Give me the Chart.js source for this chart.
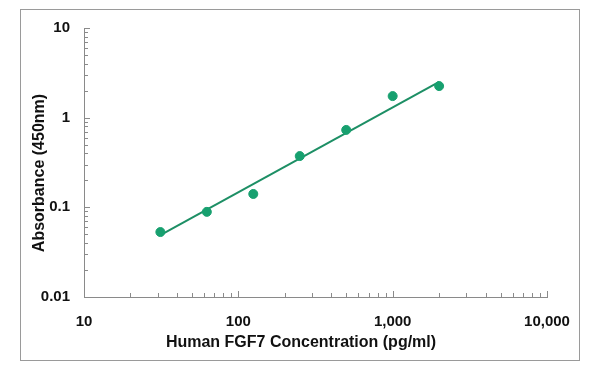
<!DOCTYPE html>
<html>
<head>
<meta charset="utf-8">
<script src="https://cdn.jsdelivr.net/npm/chart.js@4.4.1/dist/chart.umd.min.js"></script>
<style>
  html, body { margin: 0; padding: 0; background: #fff; }
  #wrap { width: 600px; height: 374px; }
</style>
</head>
<body>
<div id="wrap"><canvas id="stdCurve" width="600" height="374"></canvas></div>
<script>
// standard curve readings (pg/ml vs OD 450nm)
var concentrations = [31.25, 62.5, 125, 250, 500, 1000, 2000];
var absorbance = [0.053, 0.089, 0.141, 0.373, 0.73, 1.74, 2.25];

// fitted line at both ends
var fitX = [31.25, 2000];
var fitY = [0.049, 2.5];

// axis ticks (labelled ones are the powers of ten)
var xTicks = [10, 20, 30, 40, 50, 60, 70, 80, 90, 100, 200, 300, 400, 500, 600, 700, 800, 900,
              1000, 2000, 3000, 4000, 5000, 6000, 7000, 8000, 9000, 10000];
var yTicks = [0.01, 0.02, 0.03, 0.04, 0.05, 0.06, 0.07, 0.08, 0.09, 0.1, 0.2, 0.3, 0.4, 0.5, 0.6, 0.7, 0.8, 0.9,
              1, 2, 3, 4, 5, 6, 7, 8, 9, 10];
var xLabels = [10, 100, 1000, 10000];
var yLabels = [0.01, 0.1, 1, 10];

var green = "#17a06f";
var lineGreen = "#1d8f65";
var fontFam = "'Liberation Sans', Arial, sans-serif";

function pts(xs, ys) {
  var out = [];
  for (var i = 0; i < xs.length; i++) out.push({x: xs[i], y: ys[i]});
  return out;
}

// frame, inside tick marks and axis titles
var decor = {
  id: "decor",
  beforeDraw: function(chart) {
    var ctx = chart.ctx;
    ctx.save();
    ctx.strokeStyle = "#9a9a9a";
    ctx.lineWidth = 1;
    ctx.strokeRect(20.5, 9.5, 559, 351);
    ctx.restore();
  },
  afterDraw: function(chart) {
    var ctx = chart.ctx;
    var xs = chart.scales.x, ys = chart.scales.y;
    var area = chart.chartArea;
    ctx.save();
    ctx.strokeStyle = "#8a8a8a";
    ctx.lineWidth = 1;
    ctx.beginPath();
    xTicks.forEach(function(v) {
      var px = Math.round(xs.getPixelForValue(v)) + 0.5;
      var len = xLabels.indexOf(v) >= 0 ? 6 : 4;
      ctx.moveTo(px, area.bottom);
      ctx.lineTo(px, area.bottom - len);
    });
    yTicks.forEach(function(v) {
      var py = Math.round(ys.getPixelForValue(v)) + 0.5;
      var len = yLabels.indexOf(v) >= 0 ? 6 : 4;
      ctx.moveTo(area.left, py);
      ctx.lineTo(area.left + len, py);
    });
    ctx.stroke();

    ctx.fillStyle = "#111";
    ctx.font = "bold 16px " + fontFam;
    ctx.textAlign = "center";
    ctx.textBaseline = "middle";
    ctx.fillText("Human FGF7 Concentration (pg/ml)", 301, 343);
    ctx.translate(40, 173);
    ctx.rotate(-Math.PI / 2);
    ctx.fillText("Absorbance (450nm)", 0, 0);
    ctx.restore();
  }
};

var cfg = {
  type: "scatter",
  data: {
    datasets: [
      {
        label: "Standard",
        data: pts(concentrations, absorbance),
        backgroundColor: green,
        borderColor: green,
        pointRadius: 4.5,
        showLine: false
      },
      {
        label: "Fit",
        data: pts(fitX, fitY),
        borderColor: lineGreen,
        borderWidth: 2,
        pointRadius: 0,
        showLine: true,
        fill: false
      }
    ]
  },
  options: {
    responsive: false,
    animation: false,
    layout: {
      padding: { left: 0, right: 53, top: 28, bottom: 0 }
    },
    scales: {
      x: {
        type: "logarithmic",
        min: 10,
        max: 10000,
        afterBuildTicks: function(scale) {
          scale.ticks = xTicks.map(function(v) { return {value: v}; });
        },
        afterFit: function(scale) { scale.height = 77; },
        grid: { display: false, drawTicks: false },
        border: { display: true, color: "#8a8a8a", width: 1 },
        ticks: {
          autoSkip: false,
          maxRotation: 0,
          padding: 16,
          color: "#111",
          font: { family: fontFam, size: 15, weight: "bold" },
          callback: function(v) {
            return xLabels.indexOf(v) >= 0 ? v.toLocaleString("en-US") : "";
          }
        }
      },
      y: {
        type: "logarithmic",
        min: 0.01,
        max: 10,
        afterBuildTicks: function(scale) {
          scale.ticks = yTicks.map(function(v) { return {value: v}; });
        },
        afterFit: function(scale) { scale.width = 84; },
        grid: { display: false, drawTicks: false },
        border: { display: true, color: "#8a8a8a", width: 1 },
        ticks: {
          autoSkip: false,
          padding: 14,
          color: "#111",
          font: { family: fontFam, size: 15, weight: "bold" },
          callback: function(v) {
            return yLabels.indexOf(v) >= 0 ? String(v) : "";
          }
        }
      }
    },
    plugins: {
      legend: { display: false },
      tooltip: { enabled: false }
    }
  },
  plugins: [decor]
};

var myChart = new Chart(document.getElementById("stdCurve"), cfg);
</script>
</body>
</html>
